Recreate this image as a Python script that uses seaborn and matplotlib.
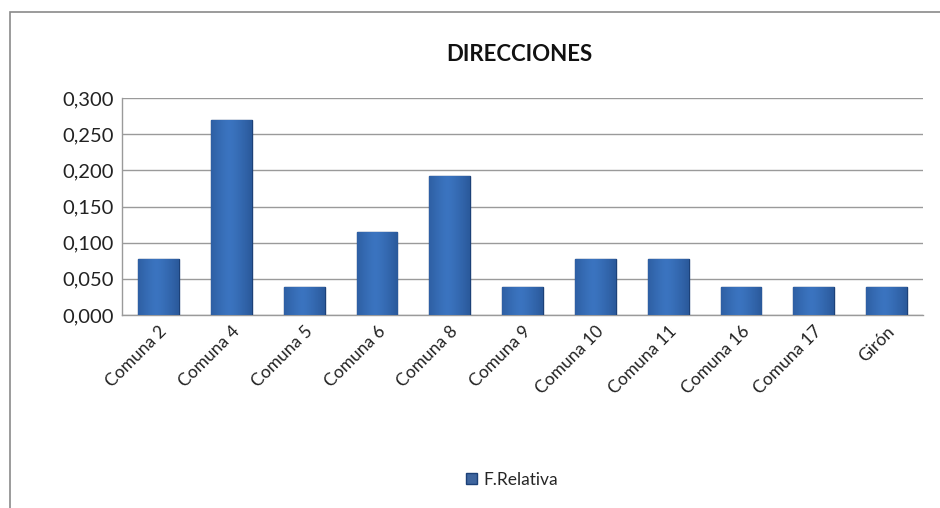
import matplotlib.pyplot as plt
import numpy as np
import seaborn as sns
from matplotlib.patches import Rectangle
from matplotlib.ticker import FuncFormatter

categories = ["Comuna 2", "Comuna 4", "Comuna 5", "Comuna 6", "Comuna 8", "Comuna 9",
              "Comuna 10", "Comuna 11", "Comuna 16", "Comuna 17", "Girón"]
f_relativa = [0.077, 0.269, 0.038, 0.115, 0.192, 0.038, 0.077, 0.077, 0.038, 0.038, 0.038]
y_ticks = [0.0, 0.05, 0.10, 0.15, 0.20, 0.25, 0.30]

sns.set_theme(style="white")
plt.rcParams["font.family"] = ["Lato", "DejaVu Sans"]

fig = plt.figure(figsize=(9.4, 5.08), dpi=100)
ax = fig.add_axes([0.130, 0.380, 0.852, 0.427])

sns.barplot(x=categories, y=f_relativa, color="#2E62AE", width=0.56,
            edgecolor="#1C4178", linewidth=1, ax=ax, zorder=3, label="F.Relativa")
handles, labels = ax.get_legend_handles_labels()
if ax.get_legend() is not None:
    ax.get_legend().remove()

# horizontal shading on each bar to mimic the bevelled look
grad = np.linspace(0, 1, 64)
grad = 1 - 0.55 * np.abs(grad - 0.45) ** 1.3
cmap = sns.blend_palette(["#173A70", "#3B74C0"], as_cmap=True)
for bar in ax.patches:
    x0, y0 = bar.get_x(), bar.get_y()
    w, h = bar.get_width(), bar.get_height()
    im = ax.imshow(grad[np.newaxis, :], cmap=cmap, vmin=0.45, vmax=1, aspect="auto",
                   extent=[x0, x0 + w, y0, y0 + h], zorder=3.5)
    im.set_clip_path(bar)
ax.set_xlim(-0.5, len(categories) - 0.5)

ax.set_ylim(0, 0.3)
ax.set_yticks(y_ticks)
ax.yaxis.set_major_formatter(FuncFormatter(lambda v, _: f"{v:.3f}".replace(".", ",")))
ax.yaxis.grid(True, color="#9A9A9A", linewidth=1)
ax.set_axisbelow(True)
for side in ["top", "right"]:
    ax.spines[side].set_visible(False)
for side in ["left", "bottom"]:
    ax.spines[side].set_color("#9A9A9A")
    ax.spines[side].set_linewidth(1)
ax.tick_params(axis="y", labelsize=14.5, colors="#222222", pad=6, length=0)
ax.tick_params(axis="x", labelsize=12.5, colors="#222222", length=0, pad=6)
plt.setp(ax.get_xticklabels(), rotation=45, ha="right", rotation_mode="anchor")

fig.text(0.553, 0.893, "DIRECCIONES", ha="center", va="center",
         fontsize=16, fontweight="bold", color="#111111")

fig.legend(handles, labels, loc="center", bbox_to_anchor=(0.545, 0.055), frameon=False,
           fontsize=12.5, handlelength=0.6, handleheight=0.6, handletextpad=0.4)

fig.patches.append(Rectangle((10 / 940, -0.1), 1.2, (1 - 12 / 508) + 0.1,
                             transform=fig.transFigure, fill=False,
                             edgecolor="#8A8A8A", linewidth=1.2))

fig.savefig("out.png", dpi=100)
